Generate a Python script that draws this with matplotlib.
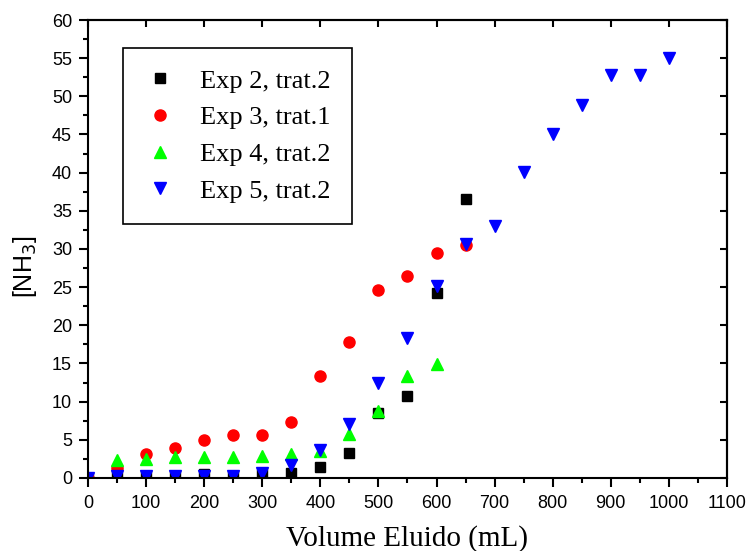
import numpy as np
import matplotlib
matplotlib.use('Agg')
from matplotlib import pyplot as plt
from matplotlib.ticker import MultipleLocator

#################### DATA ####################
vol_exp2 = [0, 50, 100, 150, 200, 250, 300, 350, 400, 450, 500, 550, 600, 650]
nh3_exp2 = [0.0, 0.2, 0.3, 0.3, 0.5, 0.3, 0.5, 0.7, 1.5, 3.3, 8.5, 10.7, 24.3, 36.5]

vol_exp3 = [0, 50, 100, 150, 200, 250, 300, 350, 400, 450, 500, 550, 600, 650]
nh3_exp3 = [0.0, 1.3, 3.2, 3.9, 5.0, 5.6, 5.6, 7.4, 13.3, 17.8, 24.6, 26.5, 29.5, 30.5]

vol_exp4 = [0, 50, 100, 150, 200, 250, 300, 350, 400, 450, 500, 550, 600]
nh3_exp4 = [0.0, 2.3, 2.5, 2.7, 2.7, 2.8, 2.9, 3.2, 3.6, 5.7, 8.8, 13.4, 14.9]

vol_exp5 = [0, 50, 100, 150, 200, 250, 300, 350, 400, 450, 500, 550, 600, 650,
            700, 750, 800, 850, 900, 950, 1000]
nh3_exp5 = [0.0, 0.3, 0.3, 0.3, 0.3, 0.3, 0.7, 1.7, 3.7, 7.1, 12.4, 18.3, 25.2, 30.6,
            33.0, 40.1, 45.1, 48.8, 52.8, 52.8, 55.0]

labels = ['Exp 2, trat.2', 'Exp 3, trat.1', 'Exp 4, trat.2', 'Exp 5, trat.2']
##############################################

plt.rcParams['font.family'] = ['Liberation Sans', 'DejaVu Sans']

fig = plt.figure(figsize=(7.48, 5.51), dpi=100)
ax = fig.add_axes([0.1176, 0.1325, 0.8543, 0.8312])

ax.plot(vol_exp2, nh3_exp2, ls='none', marker='s', ms=7, color='black', mec='black', label=labels[0])
ax.plot(vol_exp3, nh3_exp3, ls='none', marker='o', ms=8, color='red', mec='red', label=labels[1])
ax.plot(vol_exp4, nh3_exp4, ls='none', marker='^', ms=9, color='#00ff00', mec='#00ff00', label=labels[2])
ax.plot(vol_exp5, nh3_exp5, ls='none', marker='v', ms=9, color='blue', mec='blue', label=labels[3])

ax.set_xlim(0, 1100)
ax.set_ylim(0, 60)
ax.xaxis.set_major_locator(MultipleLocator(100))
ax.xaxis.set_minor_locator(MultipleLocator(50))
ax.yaxis.set_major_locator(MultipleLocator(5))
ax.yaxis.set_minor_locator(MultipleLocator(2.5))
ax.tick_params(which='major', direction='out', length=6.5, width=1.5, labelsize=13)
ax.tick_params(which='minor', direction='out', length=3.5, width=1.5)
ax.tick_params(axis='x', which='major', pad=6)
ax.tick_params(axis='y', which='major', pad=5)
for s in ax.spines.values():
    s.set_linewidth(1.5)

# inward ticks on the top and right frame
top = ax.secondary_xaxis('top')
top.xaxis.set_major_locator(MultipleLocator(100))
top.tick_params(direction='in', length=5, width=1.5, labeltop=False)
top.spines['top'].set_linewidth(1.5)
right = ax.secondary_yaxis('right')
right.yaxis.set_major_locator(MultipleLocator(5))
right.tick_params(direction='in', length=5, width=1.5, labelright=False)
right.spines['right'].set_linewidth(1.5)

ax.set_xlabel('Volume Eluido (mL)', family=['Liberation Serif'], fontsize=21)
ax.xaxis.set_label_coords(0.5, -0.103)
ax.set_ylabel('[NH$_3$]', fontsize=18)
ax.yaxis.set_label_coords(-0.076, 0.46)

leg = ax.legend(loc='upper left', bbox_to_anchor=(0.0548, 0.939), borderaxespad=0,
                prop={'family': 'Liberation Serif', 'size': 19}, numpoints=1,
                fancybox=False, edgecolor='black', framealpha=1,
                borderpad=0.8, handlelength=1.2, handletextpad=0.93, labelspacing=0.5)
leg.get_frame().set_linewidth(1.2)

fig.savefig('out.png', dpi=100)
